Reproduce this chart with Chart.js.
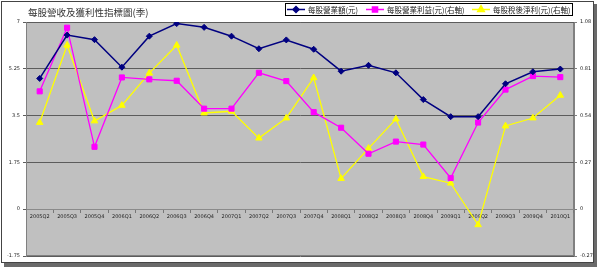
<!DOCTYPE html>
<html>
<head>
<meta charset="utf-8">
<script src="https://cdn.jsdelivr.net/npm/chart.js@4.4.1/dist/chart.umd.min.js"></script>
<style>
  html, body { margin: 0; padding: 0; background: #fff; }
  #wrap { width: 600px; height: 269px; }
</style>
</head>
<body>
<div id="wrap"><canvas id="c" width="600" height="269"></canvas></div>
<script>
// quarters on the x axis
const quarters = ['2005Q2','2005Q3','2005Q4','2006Q1','2006Q2','2006Q3','2006Q4','2007Q1','2007Q2','2007Q3',
                  '2007Q4','2008Q1','2008Q2','2008Q3','2008Q4','2009Q1','2009Q2','2009Q3','2009Q4','2010Q1'];

// left axis: revenue per share
const revenuePerShare = [4.89, 6.51, 6.34, 5.31, 6.47, 6.94, 6.80, 6.47, 6.00, 6.33,
                         5.98, 5.16, 5.38, 5.10, 4.10, 3.46, 3.46, 4.69, 5.14, 5.24];
// right axis
const opIncomePerShare = [0.68, 1.047, 0.36, 0.76, 0.749, 0.741, 0.58, 0.58, 0.787, 0.739,
                          0.56, 0.47, 0.32, 0.39, 0.373, 0.18, 0.50, 0.69, 0.768, 0.762];
const epsAfterTax = [0.50, 0.946, 0.509, 0.599, 0.785, 0.946, 0.555, 0.565, 0.41, 0.526,
                     0.758, 0.177, 0.351, 0.52, 0.188, 0.15, -0.09, 0.48, 0.526, 0.657];

const leftTicks = [-1.75, 0, 1.75, 3.5, 5.25, 7];
const rightTicks = [-0.27, 0, 0.27, 0.54, 0.81, 1.08];

const chartTitle = '每股營收及獲利性指標圖(季)';
const seriesNames = ['每股營業額(元)', '每股營業利益(元)(右軸)', '每股稅後淨利(元)(右軸)'];

const tickFont = { family: 'DejaVu Sans', size: 5 };
const cjk = '"Noto Sans CJK TC", "Noto Sans CJK SC", sans-serif';

// white card with shadow, plot background
const framePlugin = {
  id: 'frame',
  beforeDraw(chart) {
    const ctx = chart.ctx, a = chart.chartArea;
    ctx.save();
    ctx.fillStyle = '#fff';
    ctx.fillRect(0, 0, chart.width, chart.height);
    ctx.fillStyle = '#6a6a6a';
    ctx.fillRect(4, 4, 593, 263);
    ctx.fillStyle = '#fff';
    ctx.fillRect(1, 1, 593, 262);
    ctx.strokeStyle = '#444';
    ctx.lineWidth = 1;
    ctx.strokeRect(1.5, 1.5, 592, 261);

    ctx.fillStyle = '#c0c0c0';
    ctx.fillRect(a.left, a.top, a.right - a.left, a.bottom - a.top);
    ctx.strokeStyle = '#808080';
    ctx.strokeRect(a.left + 0.5, a.top + 0.5, a.right - a.left - 1, a.bottom - a.top - 1);

    ctx.fillStyle = '#333';
    ctx.font = '9.5px ' + cjk;
    ctx.textBaseline = 'middle';
    ctx.fillText(chartTitle, 28, 12.5);
    ctx.restore();
  }
};

// legend box top right: line + marker + text
const legendPlugin = {
  id: 'boxLegend',
  afterDraw(chart) {
    const ctx = chart.ctx;
    const x0 = 285, y0 = 3, x1 = 573, y1 = 16;
    const starts = [287, 366, 472];
    ctx.save();
    ctx.fillStyle = '#fff';
    ctx.fillRect(x0, y0, x1 - x0, y1 - y0);
    ctx.strokeStyle = '#000';
    ctx.lineWidth = 1;
    ctx.strokeRect(x0 + 0.5, y0 + 0.5, x1 - x0 - 1, y1 - y0 - 1);
    const cy = (y0 + y1) / 2;
    chart.data.datasets.forEach((ds, i) => {
      const sx = starts[i];
      ctx.strokeStyle = ds.borderColor;
      ctx.lineWidth = 1.5;
      ctx.beginPath();
      ctx.moveTo(sx, cy);
      ctx.lineTo(sx + 18, cy);
      ctx.stroke();
      ctx.fillStyle = ds.backgroundColor;
      Chart.helpers.drawPoint(ctx, { pointStyle: ds.pointStyle, radius: ds.pointRadius, borderWidth: 1 }, sx + 9, cy);
      ctx.fillStyle = '#222';
      ctx.font = '7.5px ' + cjk;
      ctx.textBaseline = 'middle';
      ctx.fillText(ds.label, sx + 21, cy + 0.5);
    });
    ctx.restore();
  }
};

new Chart(document.getElementById('c'), {
  type: 'line',
  data: {
    labels: quarters,
    datasets: [
      {
        label: seriesNames[0], data: revenuePerShare, yAxisID: 'y',
        borderColor: '#000080', backgroundColor: '#000080', borderWidth: 1.5,
        pointStyle: 'rectRot', pointRadius: 3, pointBorderWidth: 1
      },
      {
        label: seriesNames[1], data: opIncomePerShare, yAxisID: 'y2',
        borderColor: '#ff00ff', backgroundColor: '#ff00ff', borderWidth: 1.3,
        pointStyle: 'rect', pointRadius: 3.6, pointBorderWidth: 1
      },
      {
        label: seriesNames[2], data: epsAfterTax, yAxisID: 'y2',
        borderColor: '#ffff00', backgroundColor: '#ffff00', borderWidth: 1.3,
        pointStyle: 'triangle', pointRadius: 3.8, pointBorderWidth: 1
      }
    ]
  },
  options: {
    responsive: false,
    animation: false,
    layout: { padding: { top: 22, bottom: 13, left: 0, right: 0 } },
    plugins: {
      legend: { display: false },
      title: { display: false },
      tooltip: { enabled: false }
    },
    scales: {
      x: {
        position: { y: 0 },
        offset: true,
        grid: { display: true, drawOnChartArea: false, offset: true, tickLength: 3, color: '#777' },
        border: { display: true, color: '#8a8a8a' },
        ticks: { font: tickFont, color: '#222', maxRotation: 0, autoSkip: false, padding: 2 }
      },
      y: {
        position: 'left',
        min: -1.75, max: 7,
        afterBuildTicks: s => { s.ticks = leftTicks.map(v => ({ value: v })); },
        afterFit: s => { s.width = 26; },
        grid: { color: '#5c5c5c', tickLength: 3, lineWidth: 1 },
        border: { display: true, color: '#808080' },
        ticks: { font: tickFont, color: '#222', padding: 3, callback: v => String(v) }
      },
      y2: {
        position: 'right',
        min: -0.27, max: 1.08,
        afterBuildTicks: s => { s.ticks = rightTicks.map(v => ({ value: v })); },
        afterFit: s => { s.width = 26; },
        grid: { drawOnChartArea: false, tickLength: 3, color: '#808080' },
        border: { display: true, color: '#808080' },
        ticks: { font: tickFont, color: '#222', padding: 3, callback: v => String(v) }
      }
    }
  },
  plugins: [framePlugin, legendPlugin]
});
</script>
</body>
</html>
